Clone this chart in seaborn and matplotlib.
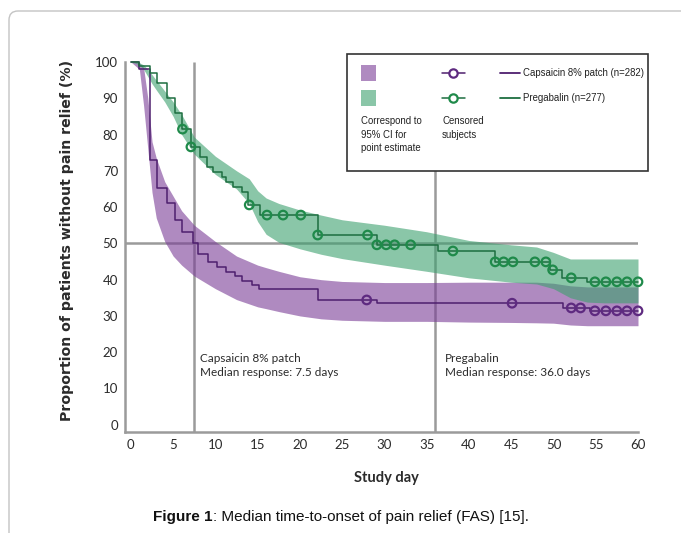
import matplotlib
matplotlib.use("Agg")
import numpy as np
import matplotlib.pyplot as plt
from matplotlib.patches import Rectangle, FancyBboxPatch
from matplotlib.lines import Line2D
from matplotlib.transforms import IdentityTransform
import seaborn as sns

# Kaplan-Meier steps: day of the step, proportion (%) after the step
caps_days = [0, 1.0, 2.25, 3.1, 4.3, 5.2, 6.1, 7.3, 7.9, 9.1, 10.2, 11.3, 12.3, 13.1,
             14.3, 15.2, 22.1, 29.1, 51.1, 54.3, 60]
caps_surv = [100, 98, 73, 65.3, 61, 56.5, 53, 50, 47, 45, 43.6, 42.2, 40.9, 39.5,
             38.6, 37.3, 34.4, 33.5, 32.2, 31.4, 31.4]
preg_days = [0, 1.0, 2.2, 3.1, 4.3, 5.2, 6.1, 7.1, 8.2, 9.0, 9.7, 10.8, 11.3, 12.1,
             13.1, 13.9, 15.3, 22.1, 29.1, 36.3, 43.1, 49.6, 51.0, 54.0, 60]
preg_surv = [100, 99, 97, 94.2, 90, 86, 81.5, 76.6, 73.8, 71, 69.7, 68.3, 66.9, 65.6,
             64.2, 60.6, 57.8, 52.3, 49.6, 47.9, 44.9, 42.7, 40.5, 39.4, 39.4]

# censored subjects
caps_cens_days = [27.9, 45.1, 52.1, 53.2, 54.9, 56.2, 57.5, 58.7, 60]
caps_cens_surv = [34.4, 33.5, 32.2, 32.2, 31.4, 31.4, 31.4, 31.4, 31.4]
preg_cens_days = [6.1, 7.1, 14.0, 16.1, 18.0, 20.1, 22.1, 28.0, 29.1, 30.2, 31.2, 33.1,
                  38.1, 43.1, 44.1, 45.2, 47.8, 49.1, 49.9, 52.1, 54.9, 56.2, 57.5, 58.7, 60]
preg_cens_surv = [81.5, 76.6, 60.6, 57.8, 57.8, 57.8, 52.3, 52.3, 49.6, 49.6, 49.6, 49.6,
                  47.9, 44.9, 44.9, 44.9, 44.9, 44.9, 42.7, 40.5, 39.4, 39.4, 39.4, 39.4, 39.4]

# 95% CI bands
band_days = [0, 1, 1.5, 2, 2.5, 3, 4, 5, 6, 7.5, 10, 12.5, 14, 15, 16, 17.5, 20, 22.5,
             25, 30, 35, 40, 45, 48, 50, 52, 54, 56, 60]
caps_lo = [100, 98, 88, 76, 64, 57, 50.5, 46.5, 44, 41, 37.5, 34.5, 33.3, 32.5, 32, 31.2,
           30, 29.2, 28.8, 28.5, 28.5, 28.3, 28.2, 28.1, 28, 27.5, 27.3, 27.3, 27.3]
caps_hi = [100, 99.8, 98.5, 90, 78, 73.5, 67, 63, 59, 55, 50.5, 46.5, 45, 44, 43.3, 42.3,
           40.8, 40, 39.5, 39.2, 39.2, 39.3, 39.3, 39.3, 39, 38.3, 38, 38, 38]
preg_lo = [100, 99.3, 98, 96, 94, 92.3, 89, 85, 80, 74.6, 69, 65, 61, 56, 52.5, 50.3,
           48.5, 47, 45.8, 44, 42.3, 40.5, 39.3, 38.8, 37.5, 35, 33.8, 33.6, 33.6]
preg_hi = [100, 99.8, 99.2, 98, 96.5, 95, 92, 89, 85.5, 79.3, 74, 70, 67.8, 64.5, 62.5, 61,
           59.2, 57.8, 56.5, 55, 53.2, 50.8, 49.6, 49, 47.5, 45.7, 45.7, 45.7, 45.7]

median_caps = 7.5
median_preg = 36.0

x_ticks = list(range(0, 61, 5))
y_ticks = list(range(0, 101, 10))

caps_fill, preg_fill = "#7a3d96", "#3ca06e"
caps_line, preg_line = "#4e1f6e", "#1d6e40"
caps_mark, preg_mark = "#5e2a80", "#1f8a4a"
grey = "#9b9b9b"

sns.set_style("white")
plt.rcParams["font.family"] = ["Lato", "DejaVu Sans"]

W, H = 681, 533
fig = plt.figure(figsize=(W / 100, H / 100), dpi=100)
ax = fig.add_axes([125 / W, 1 - 432 / H, 513 / W, 370 / H])


def fx(px):
    return px / W


def fy(py):
    return 1 - py / H


# reference lines
ax.vlines(median_caps, -2, 100, color=grey, lw=1.8, zorder=1)
ax.vlines(median_preg, -2, 72, color=grey, lw=1.8, zorder=1)
ax.hlines(50, -0.7, 60, color=grey, lw=1.8, zorder=1)

# confidence bands
ax.fill_between(band_days, caps_lo, caps_hi, color=caps_fill, alpha=0.6, lw=0, zorder=2)
ax.fill_between(band_days, preg_lo, preg_hi, color=preg_fill, alpha=0.6, lw=0, zorder=2)

# KM curves
sns.lineplot(x=caps_days, y=caps_surv, ax=ax, color=caps_line, lw=1.1,
             drawstyle="steps-post", zorder=3, clip_on=False)
sns.lineplot(x=preg_days, y=preg_surv, ax=ax, color=preg_line, lw=1.1,
             drawstyle="steps-post", zorder=3, clip_on=False)

# censored marks
sns.scatterplot(x=caps_cens_days, y=caps_cens_surv, ax=ax, marker="o", s=38,
                facecolors="none", edgecolor=caps_mark, linewidth=1.6, zorder=4, clip_on=False)
sns.scatterplot(x=preg_cens_days, y=preg_cens_surv, ax=ax, marker="o", s=38,
                facecolors="none", edgecolor=preg_mark, linewidth=1.6, zorder=4, clip_on=False)

ax.set_xlim(-0.7, 60)
ax.set_ylim(-2, 100)
ax.set_xticks(x_ticks)
ax.set_yticks(y_ticks)
ax.tick_params(axis="both", direction="out", length=3.5, width=1.3, color=grey,
               labelsize=9.5, labelcolor="#2b2b2b", pad=1.5)
for side in ["top", "right"]:
    ax.spines[side].set_visible(False)
for side in ["left", "bottom"]:
    ax.spines[side].set_color(grey)
    ax.spines[side].set_linewidth(1.8)
ax.set_xlabel("")
ax.set_ylabel("")

# annotations
ax.text(8.2, 19.8, "Capsaicin 8% patch\nMedian response: 7.5 days", fontsize=8.5,
        color="#2b2b2b", ha="left", va="top", linespacing=1.35)
ax.text(37.2, 19.8, "Pregabalin\nMedian response: 36.0 days", fontsize=8.5,
        color="#2b2b2b", ha="left", va="top", linespacing=1.35)

fig.text(fx(386), fy(478), "Study day", fontsize=10.5, fontweight="bold",
         color="#2b2b2b", ha="center", va="center")
fig.text(fx(67), fy(240), "Proportion of patients without pain relief (%)",
         family="DejaVu Sans", fontsize=10.2, fontweight="bold", color="#2b2b2b",
         rotation=90, ha="center", va="center")

# legend box
narrow = ["Liberation Sans", "DejaVu Sans"]
lfs = 6.9
fig.patches.append(Rectangle((fx(347), fy(171)), fx(648) - fx(347), fy(54) - fy(171),
                             transform=fig.transFigure, facecolor="white",
                             edgecolor="#333333", lw=1.2, zorder=5))
for py, col in [(73, caps_fill), (98, preg_fill)]:
    fig.patches.append(Rectangle((fx(361), fy(py + 8)), fx(376) - fx(361), fy(py - 8) - fy(py + 8),
                                 transform=fig.transFigure, facecolor=col, alpha=0.6,
                                 lw=0, zorder=6))
for py, lc, mc in [(73, caps_line, caps_mark), (98, preg_line, preg_mark)]:
    fig.lines.append(Line2D([fx(442), fx(465)], [fy(py), fy(py)], transform=fig.transFigure,
                            color=lc, lw=1.1, zorder=6))
    fig.lines.append(Line2D([fx(453.5)], [fy(py)], transform=fig.transFigure, marker="o",
                            ms=6, mfc="white", mec=mc, mew=1.6, zorder=7))
    fig.lines.append(Line2D([fx(500), fx(520)], [fy(py), fy(py)], transform=fig.transFigure,
                            color=lc, lw=1.3, zorder=6))
fig.text(fx(523), fy(73), "Capsaicin 8% patch (n=282)", family=narrow, fontsize=lfs,
         ha="left", va="center", color="#222222", zorder=7)
fig.text(fx(523), fy(98), "Pregabalin (n=277)", family=narrow, fontsize=lfs,
         ha="left", va="center", color="#222222", zorder=7)
fig.text(fx(361), fy(116), "Correspond to\n95% CI for\npoint estimate", family=narrow,
         fontsize=lfs, ha="left", va="top", color="#222222", linespacing=1.45, zorder=7)
fig.text(fx(442), fy(116), "Censored\nsubjects", family=narrow, fontsize=lfs,
         ha="left", va="top", color="#222222", linespacing=1.45, zorder=7)

# outer frame
fig.patches.append(FancyBboxPatch((9, -60), 720, H - 11 + 60,
                                  boxstyle="round,pad=0,rounding_size=9",
                                  transform=IdentityTransform(), facecolor="none",
                                  edgecolor="#c4c4c4", lw=1.0, zorder=0))

# caption with bold prefix
fig.canvas.draw()
renderer = fig.canvas.get_renderer()
cap_a = fig.text(0, 0, "Figure 1", family="Liberation Sans", fontsize=11,
                 fontweight="bold", va="baseline", color="#111111")
cap_b = fig.text(0, 0, ": Median time-to-onset of pain relief (FAS) [15].",
                 family="Liberation Sans", fontsize=11, va="baseline", color="#111111")
wa = cap_a.get_window_extent(renderer).width
wb = cap_b.get_window_extent(renderer).width
x0 = 341 - (wa + wb) / 2
cap_a.set_position((fx(x0), fy(521)))
cap_b.set_position((fx(x0 + wa), fy(521)))

fig.savefig("out.png", dpi=100)
